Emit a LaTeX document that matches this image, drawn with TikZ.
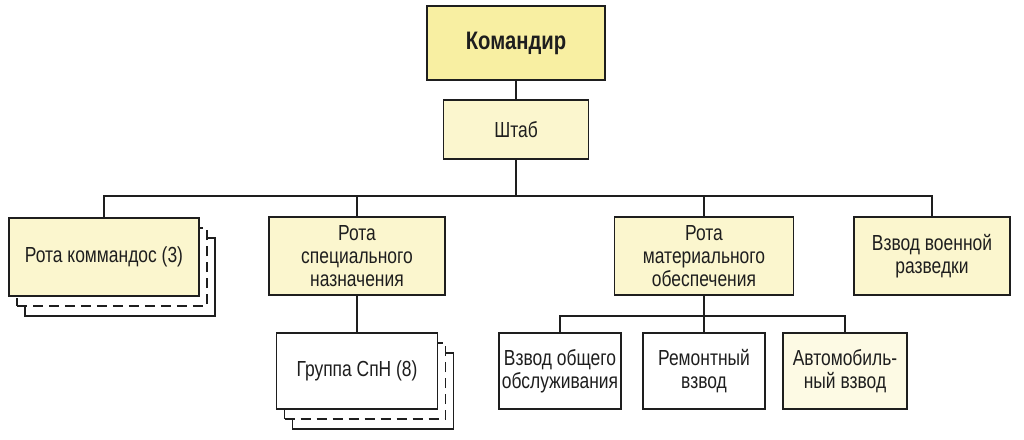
\documentclass[tikz,border=0pt]{standalone}
\usepackage{fontspec}
\setmainfont[FakeStretch=0.8]{Liberation Sans}
\usepackage{tikz}
\usetikzlibrary{positioning,shadows,backgrounds,calc}
\definecolor{chief}{HTML}{F8EFA2}
\definecolor{unit}{HTML}{FBF6CE}
\definecolor{pale}{HTML}{FDFAE4}
\definecolor{ink}{HTML}{1E1E1E}

\begin{document}
\begin{tikzpicture}[
        box/.style={rectangle, draw=ink, line width=1.3pt, fill=unit,
        align=center, font=\fontsize{15.5}{16.2}\selectfont, text=ink,
        inner sep=2pt, minimum height=1.95cm},
        topbox/.style={box, fill=chief, minimum width=4.45cm,
        minimum height=1.85cm, font=\fontsize{18}{19}\selectfont\bfseries},
        subbox/.style={box, fill=white, minimum height=1.9cm},
        stack/.style={
          copy shadow={shadow xshift=0.4cm, shadow yshift=-0.5cm,
          fill=white, draw=ink, line width=1.3pt},
          copy shadow={shadow xshift=0.2cm, shadow yshift=-0.25cm,
          fill=white, draw=ink, line width=1.3pt,
        dash pattern=on 0.25cm off 0.15cm}},
        conn/.style={draw=ink, line width=1.3pt},
      ]
      \useasboundingbox (0,0) rectangle (25.6,-11);

      % =================== COMMAND ===================
      \node[topbox] (cmdr) at (12.9, -1.075) {Командир};
      \node[box, minimum width=3.625cm, minimum height=1.475cm] (hq)
      at (12.9, -3.24) {Штаб};
      \coordinate (busmain) at (12.9, -4.9);

      % =================== COMPANIES ===================
      \node[box, stack, minimum width=4.75cm] (commando) at (2.6, -6.43)
      {Рота коммандос (3)};
      \node[box, minimum width=4.4cm] (spec) at (8.925, -6.4)
      {Рота\\специального\\назначения};
      \node[box, minimum width=4.475cm] (supply) at (17.6, -6.4)
      {Рота\\материального\\обеспечения};
      \node[box, minimum width=3.9cm] (recon) at (23.3, -6.4)
      {Взвод военной\\разведки};

      % =================== PLATOONS ===================
      \node[subbox, stack, minimum width=4.025cm] (grp) at (8.925, -9.275)
      {Группа СпН (8)};
      \coordinate (bussup) at (17.6, -7.9);
      \node[subbox, minimum width=3.05cm] (svc) at (14, -9.275)
      {Взвод общего\\обслуживания};
      \node[subbox, minimum width=3.05cm] (repair) at (17.6, -9.275)
      {Ремонтный\\взвод};
      \node[subbox, fill=pale, minimum width=3.1cm] (auto) at (21.125, -9.275)
      {Автомобиль-\\ный взвод};

      % =================== CONNECTIONS ===================
      \draw[conn] (cmdr.south) -- (hq.north);
      \draw[conn] (hq.south) -- (busmain);
      \draw[conn] (commando.north) -- (commando.north |- busmain)
      -- (recon.north |- busmain) -- (recon.north);
      \draw[conn] (spec.north) -- (spec.north |- busmain);
      \draw[conn] (supply.north) -- (supply.north |- busmain);

      \draw[conn] (spec.south) -- (grp.north);

      \draw[conn] (supply.south) -- (bussup);
      \draw[conn] (svc.north) -- (svc.north |- bussup)
      -- (auto.north |- bussup) -- (auto.north);
      \draw[conn] (repair.north) -- (bussup);

    \end{tikzpicture}
\end{document}
